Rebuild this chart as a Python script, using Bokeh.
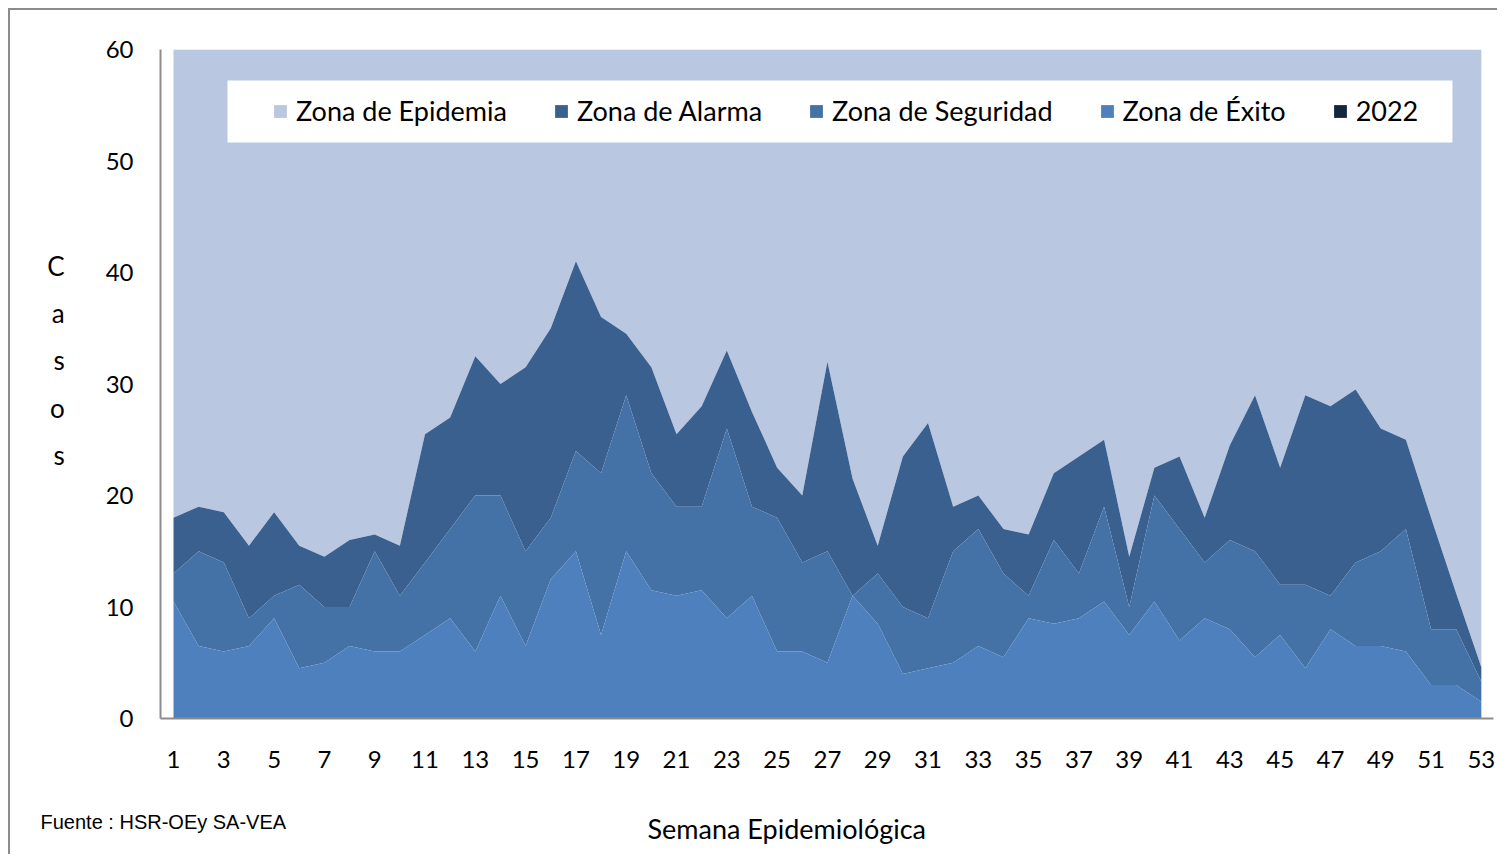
from bokeh.plotting import figure
from bokeh.models import Range1d, Legend, LegendItem, Title, BoxAnnotation, FixedTicker, ColumnDataSource
from bokeh.embed import file_html
from bokeh.resources import INLINE

# ---- data (upper limit of each zone, cases per epidemiological week) ----
semanas = list(range(1, 54))
limite_exito = [10.5, 6.5, 6.0, 6.5, 9.0, 4.5, 5.0, 6.5, 6.0, 6.0,
                7.5, 9.0, 6.0, 11.0, 6.5, 12.5, 15.0, 7.5, 15.0, 11.5,
                11.0, 11.5, 9.0, 11.0, 6.0, 6.0, 5.0, 11.0, 8.5, 4.0,
                4.5, 5.0, 6.5, 5.5, 9.0, 8.5, 9.0, 10.5, 7.5, 10.5,
                7.0, 9.0, 8.0, 5.5, 7.5, 4.5, 8.0, 6.5, 6.5, 6.0,
                3.0, 3.0, 1.5]
limite_seguridad = [13, 15, 14, 9, 11, 12, 10, 10, 15, 11,
                    14, 17, 20, 20, 15, 18, 24, 22, 29, 22,
                    19, 19, 26, 19, 18, 14, 15, 11, 13, 10,
                    9, 15, 17, 13, 11, 16, 13, 19, 10, 20,
                    17, 14, 16, 15, 12, 12, 11, 14, 15, 17,
                    8, 8, 3.3]
limite_alarma = [18, 19, 18.5, 15.5, 18.5, 15.5, 14.5, 16, 16.5, 15.5,
                 25.5, 27, 32.5, 30, 31.5, 35, 41, 36, 34.5, 31.5,
                 25.5, 28, 33, 27.5, 22.5, 20, 32, 21.5, 15.5, 23.5,
                 26.5, 19, 20, 17, 16.5, 22, 23.5, 25, 14.5, 22.5,
                 23.5, 18, 24.5, 29, 22.5, 29, 28, 29.5, 26, 25,
                 18, 11.2, 4.6]
limite_epidemia = [60, 60, 60, 60, 60, 60, 60, 60, 60, 60,
                   60, 60, 60, 60, 60, 60, 60, 60, 60, 60,
                   60, 60, 60, 60, 60, 60, 60, 60, 60, 60,
                   60, 60, 60, 60, 60, 60, 60, 60, 60, 60,
                   60, 60, 60, 60, 60, 60, 60, 60, 60, 60,
                   60, 60, 60]
semanas_2022 = []
casos_2022 = []

ticks_x = [1, 3, 5, 7, 9, 11, 13, 15, 17, 19, 21, 23, 25, 27, 29, 31, 33,
           35, 37, 39, 41, 43, 45, 47, 49, 51, 53]
ticks_y = [0, 10, 20, 30, 40, 50, 60]
nombres = ["Zona de Epidemia", "Zona de Alarma", "Zona de Seguridad", "Zona de Éxito", "2022"]

C_EPI = "#B9C7E0"
C_ALA = "#3A6090"
C_SEG = "#4472A7"
C_EXI = "#4D80BC"
C_2022 = "#14263F"
FONT = "Lato"

src = ColumnDataSource(dict(semana=semanas, exito=limite_exito, seguridad=limite_seguridad,
                            alarma=limite_alarma, epidemia=limite_epidemia))
src22 = ColumnDataSource(dict(semana=semanas_2022, casos=casos_2022))

p = figure(width=1489, height=846, x_range=Range1d(0.483, 53.483), y_range=Range1d(0, 60),
           output_backend="svg", toolbar_location=None,
           min_border_left=150, min_border_right=6, min_border_top=39, min_border_bottom=138)
p.styles = {"margin-left": "8px", "margin-top": "8px",
            "border-top": "2px solid #8C8C8C", "border-left": "2px solid #8C8C8C"}
p.outline_line_color = None
p.xgrid.visible = False
p.ygrid.visible = False
p.background_fill_color = "white"
p.border_fill_color = "white"

r_epi = p.varea(x="semana", y1="alarma", y2="epidemia", source=src, fill_color=C_EPI)
r_ala = p.varea(x="semana", y1="seguridad", y2="alarma", source=src, fill_color=C_ALA)
r_seg = p.varea(x="semana", y1="exito", y2="seguridad", source=src, fill_color=C_SEG)
r_exi = p.varea(x="semana", y1=0, y2="exito", source=src, fill_color=C_EXI)
# 2022 series (no cases plotted) and a hidden swatch so its legend entry shows
r_22 = p.varea(x="semana", y1=0, y2="casos", source=src22, fill_color=C_2022)
r_22_legend = p.varea(x="semana", y1=0, y2=0, source=src, fill_color=C_2022, visible=False)

for ax, tk in ((p.xaxis, ticks_x), (p.yaxis, ticks_y)):
    ax.ticker = FixedTicker(ticks=tk)
    ax.major_tick_line_color = None
    ax.minor_tick_line_color = None
    ax.major_tick_out = 0
    ax.major_tick_in = 0
    ax.axis_line_color = "#8C8C8C"
    ax.axis_line_width = 2
    ax.major_label_text_font = FONT
    ax.major_label_text_font_size = "24px"
    ax.major_label_text_color = "black"
p.xaxis.major_label_standoff = 32
p.yaxis.major_label_standoff = 27

# vertical, letter-stacked y title
p.yaxis.axis_label = "C\na\ns\no\ns\n\u00a0"
p.yaxis.axis_label_orientation = "horizontal"
p.yaxis.axis_label_text_font = FONT
p.yaxis.axis_label_text_font_size = "26px"
p.yaxis.axis_label_text_font_style = "normal"
p.yaxis.axis_label_text_line_height = 1.48
p.yaxis.axis_label_text_color = "black"
p.yaxis.axis_label_standoff = 38

# bottom texts (zero-height title boxes, text pushed down by the standoff)
t_fuente = Title(text="Fuente : HSR-OEy SA-VEA", align="left", offset=-120, standoff=-125,
                 text_font="Liberation Sans", text_font_size="20px", text_font_style="normal",
                 text_color="black")
t_semana = Title(text="Semana  Epidemiológica", align="left", offset=487, standoff=-149,
                 text_font=FONT, text_font_size="27px", text_font_style="normal",
                 text_color="black")
p.add_layout(t_fuente, "below")
p.add_layout(t_semana, "below")

# white legend box
box = BoxAnnotation(left=3.147, right=51.85, bottom=51.66, top=57.22,
                    fill_color="white", fill_alpha=1.0, line_color=None)
p.add_layout(box)

legend = Legend(items=[LegendItem(label=n, renderers=[r]) for n, r in
                       zip(nombres, [r_epi, r_ala, r_seg, r_exi, r_22_legend])],
                orientation="horizontal", location=(112, 591),
                background_fill_alpha=0.0, border_line_color=None,
                inactive_fill_alpha=0.0,
                padding=8, spacing=46, label_standoff=8,
                glyph_width=16, glyph_height=16,
                label_text_font=FONT, label_text_font_size="27px", label_text_color="black")
p.add_layout(legend, "center")

open("out.html", "w").write(file_html(p, INLINE))
